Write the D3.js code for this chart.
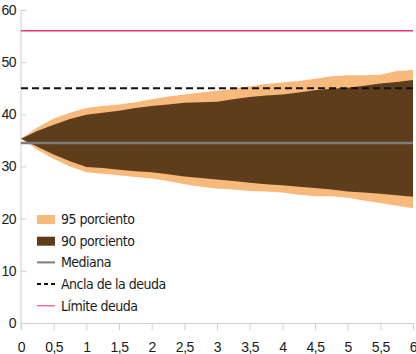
<!DOCTYPE html>
<html>
<head>
<meta charset="utf-8">
<script src="https://cdn.jsdelivr.net/npm/d3@7"></script>
<style>
  html, body { margin: 0; padding: 0; background: #fff; }
  svg { display: block; font-family: "Liberation Sans Narrow", "DejaVu Sans Condensed", sans-serif; }
  .axis path, .axis line { stroke: #cfcfcf; }
  .axis text { font-size: 14px; fill: #1a1a1a; letter-spacing: -0.5px; }
  .legend text { font-size: 14px; fill: #1a1a1a; letter-spacing: -0.5px; }
</style>
</head>
<body>
<svg id="chart"></svg>
<script>
// years ahead (quarterly steps)
const years = [0, 0.25, 0.5, 0.75, 1, 1.25, 1.5, 1.75, 2, 2.25, 2.5, 2.75, 3,
  3.25, 3.5, 3.75, 4, 4.25, 4.5, 4.75, 5, 5.25, 5.5, 5.75, 6];

const upper95 = [35.3, 37.5, 39.2, 40.3, 41.2, 41.6, 41.9, 42.3, 42.9, 43.4, 43.8, 44.2, 44.5,
  44.9, 45.4, 45.8, 46.1, 46.4, 46.8, 47.3, 47.5, 47.5, 47.6, 48.3, 48.5];
const upper90 = [35.3, 36.8, 38.0, 39.1, 39.9, 40.3, 40.7, 41.2, 41.6, 41.9, 42.2, 42.3, 42.4,
  42.9, 43.3, 43.6, 43.8, 44.2, 44.6, 44.9, 45.1, 45.5, 45.9, 46.2, 46.6];
const lower90 = [35.3, 33.8, 32.3, 31.0, 29.9, 29.7, 29.4, 29.1, 28.9, 28.5, 28.1, 27.8, 27.5,
  27.2, 26.9, 26.6, 26.4, 26.1, 25.9, 25.6, 25.2, 25.0, 24.8, 24.5, 24.2];
const lower95 = [35.3, 33.2, 31.5, 30.0, 28.9, 28.6, 28.3, 28.0, 27.7, 27.2, 26.6, 26.1, 25.8,
  25.6, 25.3, 25.2, 25.0, 24.6, 24.3, 24.3, 24.0, 23.5, 23.0, 22.5, 22.0];

const mediana = 34.5;
const anclaDeuda = 45;
const limiteDeuda = 56;

const xTicks = [0, 0.5, 1, 1.5, 2, 2.5, 3, 3.5, 4, 4.5, 5, 5.5, 6];
const yTicks = [0, 10, 20, 30, 40, 50, 60];

const legendLabels = ['95 porciento', '90 porciento', 'Mediana', 'Ancla de la deuda', 'Límite deuda'];

const width = 416, height = 354;
const colors = { c95: '#f8ba7c', c90: '#5e3d1c', med: '#7c7c7c', ancla: '#111', limite: '#e8336d' };

const svg = d3.select('#chart').attr('width', width).attr('height', height);

const x = d3.scaleLinear().domain([0, 6]).range([21, 413]);
const y = d3.scaleLinear().domain([0, 60]).range([323, 10]);

const comma = d => String(d).replace('.', ',');

// axes
svg.append('g')
  .attr('class', 'axis')
  .attr('transform', `translate(${x(0)},0)`)
  .call(d3.axisLeft(y).tickValues(yTicks).tickSize(-5).tickPadding(5).tickSizeOuter(0))
  .call(g => g.select('.domain').attr('d', `M0,${y(60)}V329`));

svg.append('g')
  .attr('class', 'axis')
  .attr('transform', `translate(0,${y(0)})`)
  .call(d3.axisBottom(x).tickValues(xTicks).tickFormat(comma).tickSize(7).tickPadding(12).tickSizeOuter(0));

// fan areas
const pts = years.map((t, i) => ({ t, u95: upper95[i], l95: lower95[i], u90: upper90[i], l90: lower90[i] }));

svg.append('path')
  .datum(pts)
  .attr('fill', colors.c95)
  .attr('d', d3.area().x(d => x(d.t)).y0(d => y(d.l95)).y1(d => y(d.u95)));

svg.append('path')
  .datum(pts)
  .attr('fill', colors.c90)
  .attr('d', d3.area().x(d => x(d.t)).y0(d => y(d.l90)).y1(d => y(d.u90)));

// reference lines
svg.append('line')
  .attr('x1', x(0)).attr('x2', x(6))
  .attr('y1', y(mediana)).attr('y2', y(mediana))
  .attr('stroke', colors.med).attr('stroke-width', 2.5);

svg.append('line')
  .attr('x1', x(0)).attr('x2', x(6))
  .attr('y1', y(anclaDeuda)).attr('y2', y(anclaDeuda))
  .attr('stroke', colors.ancla).attr('stroke-width', 2).attr('stroke-dasharray', '7,4');

svg.append('line')
  .attr('x1', x(0)).attr('x2', x(6))
  .attr('y1', y(limiteDeuda)).attr('y2', y(limiteDeuda))
  .attr('stroke', colors.limite).attr('stroke-width', 1.5);

// legend
const legend = svg.append('g').attr('class', 'legend').attr('transform', 'translate(37,219)');
const rowH = 21.7;

legendLabels.forEach((label, i) => {
  const g = legend.append('g').attr('transform', `translate(0,${i * rowH})`);
  if (i === 0) g.append('rect').attr('x', 0).attr('y', -4).attr('width', 18).attr('height', 9).attr('fill', colors.c95);
  if (i === 1) g.append('rect').attr('x', 0).attr('y', -4).attr('width', 18).attr('height', 9).attr('fill', colors.c90);
  if (i === 2) g.append('line').attr('x1', 0).attr('x2', 18).attr('stroke', colors.med).attr('stroke-width', 2);
  if (i === 3) g.append('line').attr('x1', 0).attr('x2', 18).attr('stroke', colors.ancla).attr('stroke-width', 2).attr('stroke-dasharray', '4,3');
  if (i === 4) g.append('line').attr('x1', 0).attr('x2', 18).attr('stroke', colors.limite).attr('stroke-width', 1);
  g.append('text').attr('x', 24).attr('dy', '0.35em').text(label);
});
</script>
</body>
</html>
